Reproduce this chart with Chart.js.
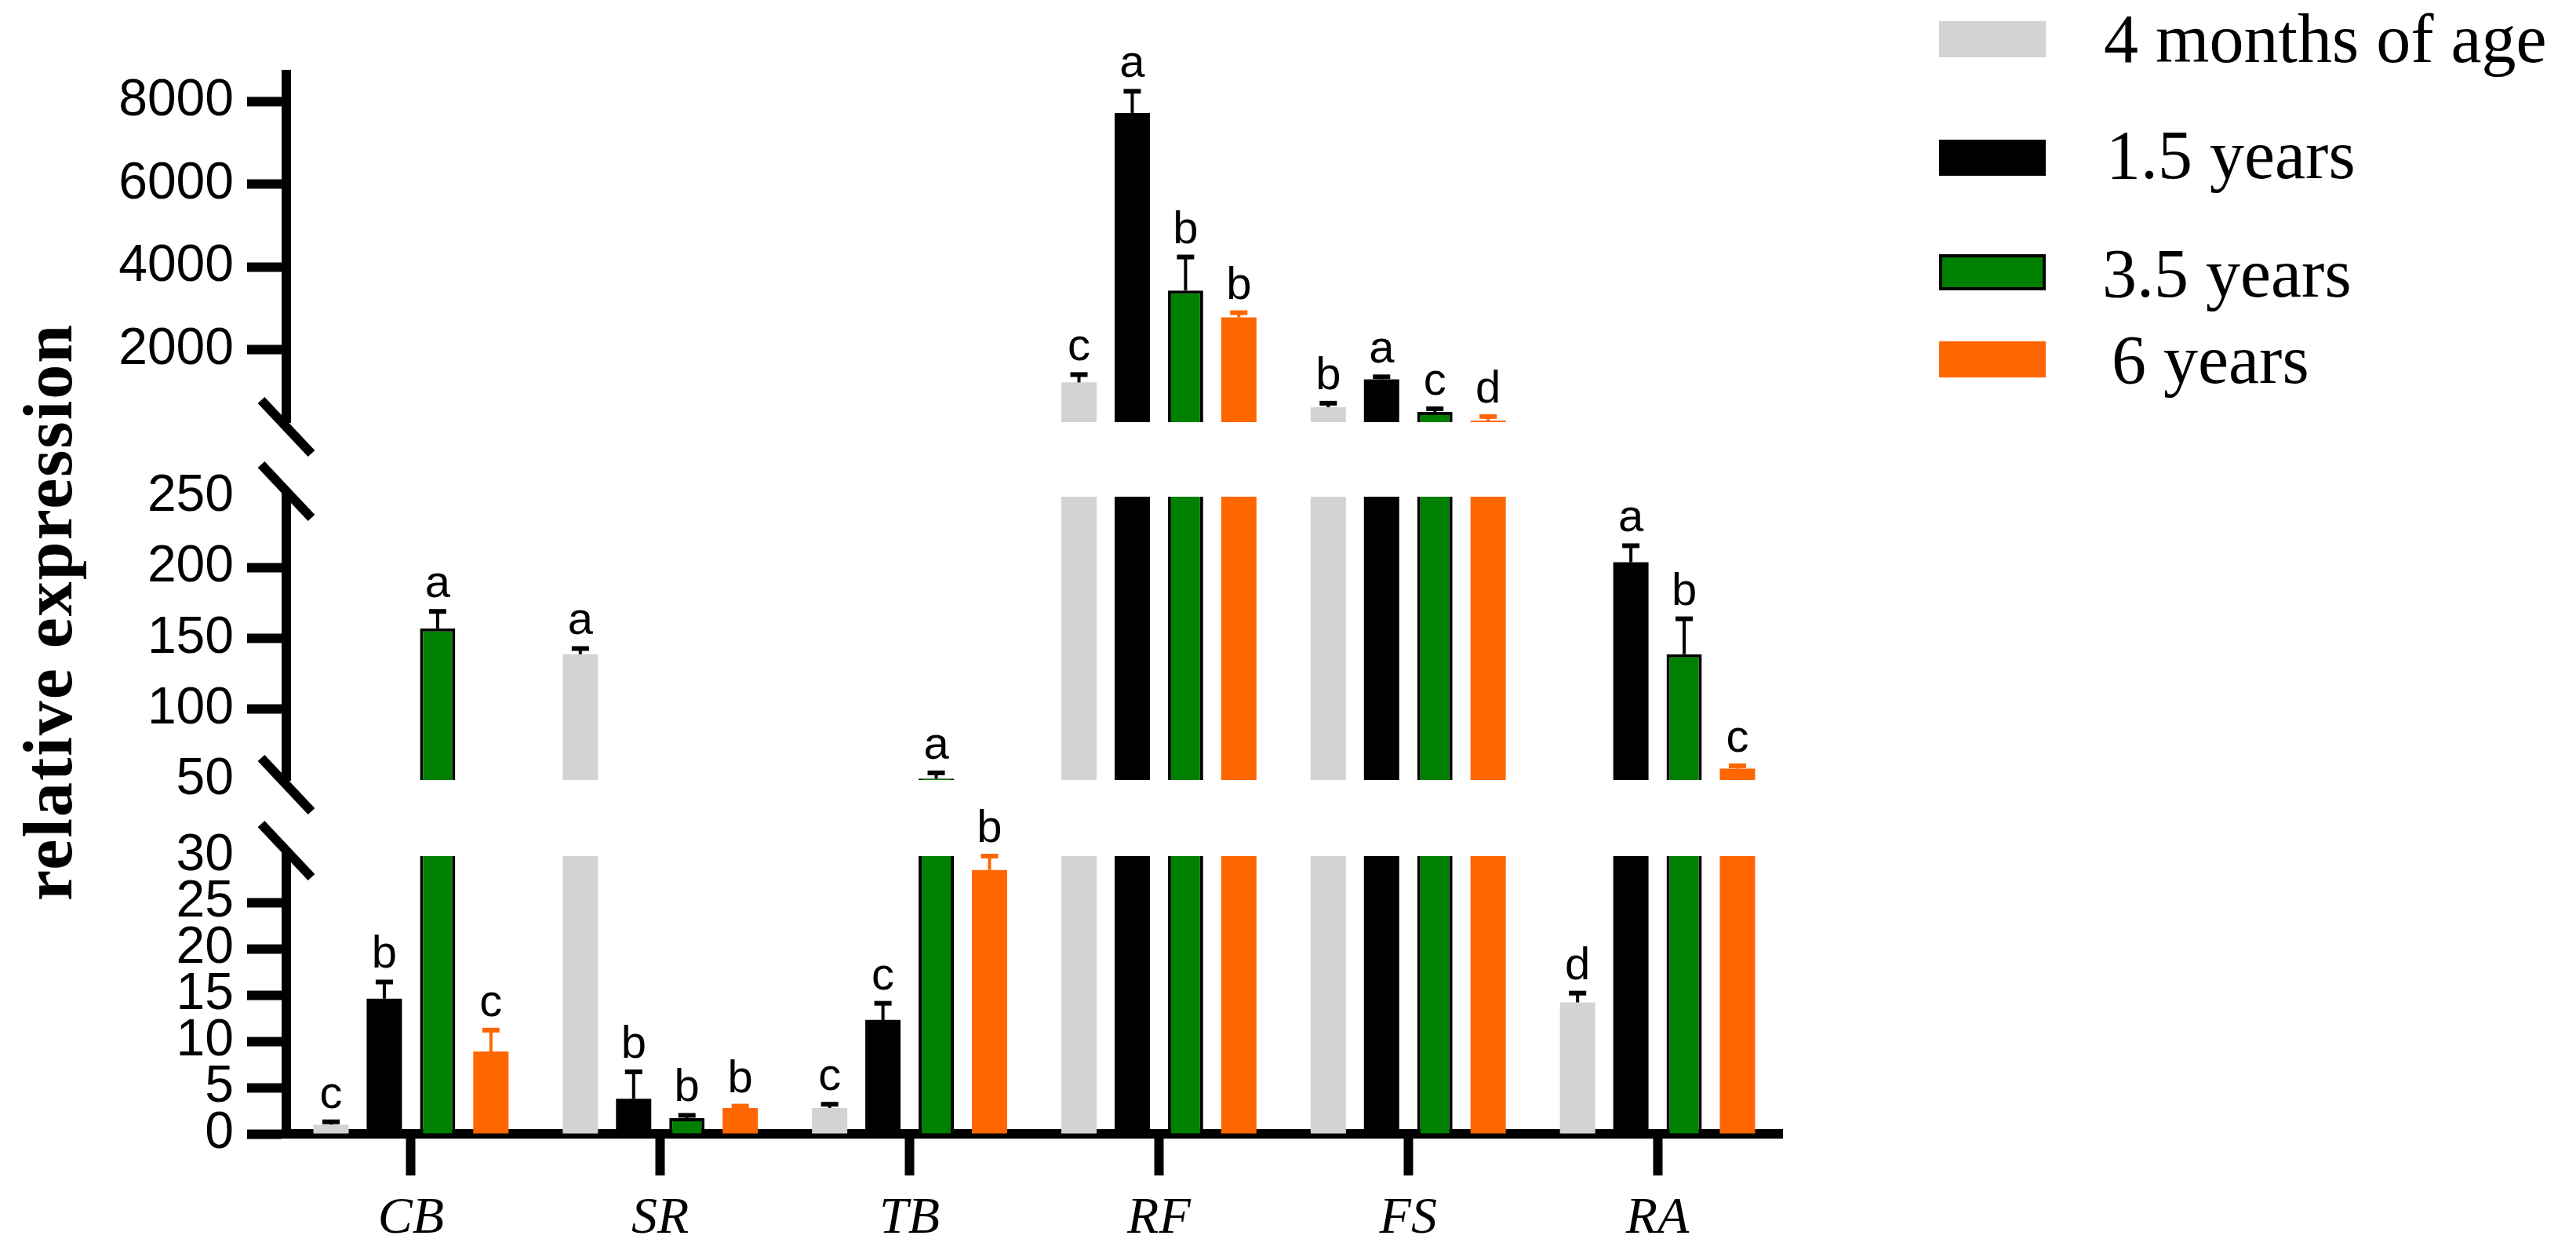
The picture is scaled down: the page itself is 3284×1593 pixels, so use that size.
<!DOCTYPE html>
<html><head><meta charset="utf-8">
<script src="https://cdn.jsdelivr.net/npm/chart.js@4.4.1/dist/chart.umd.min.js"></script>
<style>html,body{margin:0;padding:0;background:#fff;}#wrap{width:3284px;height:1593px;}</style>
</head><body><div id="wrap"><canvas id="c" width="3284" height="1593"></canvas></div>
<script>
const categories = ['CB','SR','TB','RF','FS','RA'];
const seriesNames = ['4 months of age','1.5 years','3.5 years','6 years'];
const seriesColors = ['#d3d3d3','#000000','#008000','#ff6600'];
const months4 = [1.0, 138.8, 2.8, 1210, 612, 14.2];
const years1_5 = [14.6, 3.8, 12.3, 7722, 1285, 203.7];
const years3_5 = [157, 1.7, 51, 3433, 498, 138.8];
const years6 = [8.9, 2.8, 28.5, 2782, 290, 58];
const err4m = [0.3, 4, 0.4, 190, 96, 1.0];
const err1_5 = [1.8, 2.9, 1.8, 524, 60, 11.7];
const err3_5 = [12, 0.3, 4, 808, 76, 25];
const err6 = [2.3, 0.2, 1.5, 113, 96, 2];
const letters4m = ['c','a','c','c','b','d'];
const letters1_5 = ['b','b','c','a','a','a'];
const letters3_5 = ['a','b','a','b','c','b'];
const letters6 = ['c','b','b','b','d','c'];
const bottomTicks = [0,5,10,15,20,25,30];
const middleTicks = [50,100,150,200,250];
const topTicks = [2000,4000,6000,8000];
const segBottom = {id:'yBottom', min:0, max:30, ticks:bottomTicks, noMark:[30]};
const segMiddle = {id:'yMiddle', min:50, max:250, ticks:middleTicks, noMark:[50,250]};
const segTop = {id:'yTop', min:250, max:8650, ticks:topTicks, noMark:[]};
const segments = [segBottom, segMiddle, segTop];

const allSeries = [months4, years1_5, years3_5, years6];
const allErr = [err4m, err1_5, err3_5, err6];
const allLetters = [letters4m, letters1_5, letters3_5, letters6];

const datasets = [];
segments.forEach((seg) => {
  allSeries.forEach((vals, s) => {
    datasets.push({
      label: seriesNames[s],
      data: vals.map(v => v > seg.min ? [seg.min, Math.min(v, seg.max)] : null),
      yAxisID: seg.id,
      stack: 'S' + s,
      backgroundColor: seriesColors[s],
      borderColor: '#000000',
      borderSkipped: false,
      borderWidth: (ctx) => {
        if (s !== 2 || ctx.dataIndex === undefined) return 0;
        const r = ctx.raw;
        if (!r) return 0;
        const clipped = r[1] < vals[ctx.dataIndex];
        return {top: clipped ? 0 : 4, bottom: 0, left: 4, right: 4};
      }
    });
  });
});

function yScale(seg, weight, stackWeight) {
  return {
    type: 'linear', position: 'left', stack: 'ybreak', stackWeight: stackWeight, weight: weight,
    min: seg.min, max: seg.max, stacked: false,
    afterBuildTicks: sc => { sc.ticks = seg.ticks.map(v => ({value: v})); },
    afterFit: sc => { sc.width = 365; },
    ticks: {font: {family: '"Liberation Sans", Arial, sans-serif', size: 66}, color: '#000', padding: 17,
      autoSkip: false, callback: v => String(v)},
    grid: {display: true, drawOnChartArea: false, drawTicks: true, tickLength: 50, tickWidth: 12,
      tickColor: c => (c.tick && seg.noMark.includes(c.tick.value)) ? 'rgba(0,0,0,0)' : '#000'},
    border: {display: true, width: 12, color: '#000'}
  };
}
function gapScale(weight, stackWeight) {
  return {
    type: 'linear', position: 'left', stack: 'ybreak', stackWeight: stackWeight, weight: weight,
    display: true, afterFit: sc => { sc.width = 365; },
    ticks: {display: false}, grid: {display: false}, border: {display: false}
  };
}

const decor = {
  id: 'decor',
  afterDatasetsDraw(chart) {
    const ctx = chart.ctx;
    ctx.save();
    allSeries.forEach((vals, s) => {
      const meta = chart.getDatasetMeta(s);
      vals.forEach((v, i) => {
        const seg = segments.find(g => v > g.min && v <= g.max) || segTop;
        const sc = chart.scales[seg.id];
        const x = meta.data[i].x;
        const yv = sc.getPixelForValue(v);
        const yc = sc.getPixelForValue(Math.min(v + allErr[s][i], seg.max));
        ctx.strokeStyle = s === 3 ? seriesColors[3] : '#000';
        ctx.lineWidth = 4;
        ctx.beginPath(); ctx.moveTo(x, yv); ctx.lineTo(x, yc); ctx.stroke();
        ctx.lineWidth = 6;
        ctx.beginPath(); ctx.moveTo(x - 11, yc); ctx.lineTo(x + 11, yc); ctx.stroke();
        ctx.fillStyle = '#000';
        ctx.font = '58px "Liberation Sans", Arial, sans-serif';
        ctx.textAlign = 'center'; ctx.textBaseline = 'alphabetic';
        ctx.fillText(allLetters[s][i], x, yc - 18);
      });
    });
    ctx.restore();
  },
  afterDraw(chart) {
    const ctx = chart.ctx;
    const x0 = chart.chartArea.left;
    const sb = chart.scales.yBottom, sm = chart.scales.yMiddle, st = chart.scales.yTop;
    const slashes = [st.bottom + 6, sm.top - 7, sm.bottom + 6, sb.top - 7];
    ctx.save();
    ctx.strokeStyle = '#000'; ctx.lineWidth = 12; ctx.lineCap = 'butt';
    slashes.forEach(yc => {
      ctx.beginPath(); ctx.moveTo(x0 - 32, yc - 34); ctx.lineTo(x0 + 32, yc + 34); ctx.stroke();
    });
    // y title
    ctx.save();
    ctx.translate(91, 780);
    ctx.rotate(-Math.PI / 2);
    ctx.fillStyle = '#000';
    ctx.font = 'bold 88px "Liberation Serif", "Times New Roman", serif';
    try { ctx.letterSpacing = '2px'; } catch (e) {}
    ctx.textAlign = 'center'; ctx.textBaseline = 'alphabetic';
    ctx.fillText('relative expression', 0, 0);
    ctx.restore();
    // legend
    const swY = [50, 201, 347, 458];
    const txY = [56, 204, 355, 465];
    const txX = [2682, 2685, 2680, 2692];
    ctx.font = '88px "Liberation Serif", "Times New Roman", serif';
    ctx.textAlign = 'left'; ctx.textBaseline = 'middle';
    seriesNames.forEach((name, s) => {
      ctx.fillStyle = seriesColors[s];
      ctx.fillRect(2472, swY[s] - 23, 136, 46);
      if (s === 2) { ctx.lineWidth = 4; ctx.strokeStyle = '#000'; ctx.strokeRect(2474, swY[s] - 21, 132, 42); }
      ctx.fillStyle = '#000';
      ctx.fillText(name, txX[s], txY[s]);
    });
    ctx.restore();
  }
};

new Chart(document.getElementById('c'), {
  type: 'bar',
  data: {labels: categories, datasets: datasets},
  options: {
    responsive: false, devicePixelRatio: 1, animation: false,
    layout: {padding: {top: 95, right: 1012, bottom: 0, left: 0}},
    datasets: {bar: {barPercentage: 0.662, categoryPercentage: 0.855}},
    plugins: {legend: {display: false}, tooltip: {enabled: false}},
    scales: {
      x: {
        type: 'category', position: 'bottom', offset: true,
        grid: {display: true, drawOnChartArea: false, drawTicks: true, tickLength: 53, tickWidth: 12, tickColor: '#000', offset: false},
        border: {display: true, width: 12, color: '#000'},
        ticks: {font: {family: '"Liberation Serif", "Times New Roman", serif', style: 'italic', size: 66}, color: '#000',
          padding: 16, maxRotation: 0, autoSkip: false},
        afterFit: sc => { sc.height = 148; }
      },
      yTop: yScale(segTop, 5, 443),
      gapTop: gapScale(4, 95),
      yMiddle: yScale(segMiddle, 3, 361),
      gapBottom: gapScale(2, 97),
      yBottom: yScale(segBottom, 1, 354)
    }
  },
  plugins: [decor]
});
</script></body></html>
